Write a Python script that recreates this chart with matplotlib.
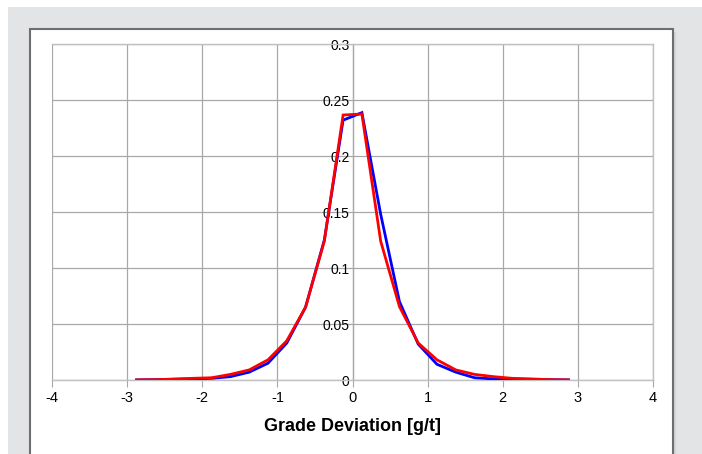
import numpy as np
import matplotlib
matplotlib.use("Agg")
import matplotlib.pyplot as plt
from matplotlib.patches import Rectangle

plt.rcParams['font.family'] = ['Liberation Sans', 'DejaVu Sans']

# Data
x_vals = [-2.875, -2.625, -2.375, -2.125, -1.875, -1.625, -1.375, -1.125, -0.875, -0.625,
          -0.375, -0.125, 0.125, 0.375, 0.625, 0.875, 1.125, 1.375, 1.625, 1.875,
          2.125, 2.375, 2.625, 2.875]
blue_vals = [0.0001, 0.0003, 0.0007, 0.001, 0.0015, 0.003, 0.007, 0.015, 0.033, 0.065,
             0.125, 0.232, 0.2387, 0.148, 0.070, 0.032, 0.014, 0.007, 0.002, 0.001,
             0.0008, 0.0005, 0.0003, 0.0001]
red_vals = [0.0001, 0.0003, 0.0008, 0.0015, 0.002, 0.005, 0.009, 0.018, 0.035, 0.065,
            0.124, 0.2366, 0.2375, 0.124, 0.0655, 0.033, 0.018, 0.009, 0.005, 0.003,
            0.0015, 0.001, 0.0003, 0.0001]
x_ticks = [-4, -3, -2, -1, 0, 1, 2, 3, 4]
y_ticks = [0, 0.05, 0.1, 0.15, 0.2, 0.25, 0.3]
y_tick_labels = ["0", "0.05", "0.1", "0.15", "0.2", "0.25", "0.3"]
x_label = "Grade Deviation [g/t]"

W, H = 702, 454
fig = plt.figure(figsize=(W / 100, H / 100), dpi=100)

def px_rect(x0, y0, x1, y1, **kw):
    return Rectangle((x0 / W, 1 - y1 / H), (x1 - x0) / W, (y1 - y0) / H,
                     transform=fig.transFigure, **kw)

# Gray background
fig.patches.append(px_rect(8, 7, 702, 454, facecolor='#e3e4e6', edgecolor='none', zorder=0))
# soft shadow
for i, c in enumerate(['#c4c5c7', '#cfd0d2', '#d8d9db', '#dfe0e2']):
    fig.patches.append(px_rect(673 + i, 32, 674 + i, 454, facecolor=c, edgecolor='none', zorder=0.5))
# White panel with dark border
fig.patches.append(px_rect(30, 29, 673, 460, facecolor='white', edgecolor='#6e6e6e',
                           linewidth=1.5, zorder=1))

ax = fig.add_axes([52 / W, 1 - 380 / H, (653 - 52) / W, (380 - 44) / H])
ax.set_zorder(2)
ax.set_facecolor('white')

ax.set_xlim(-4, 4)
ax.set_ylim(0, 0.3)

ax.plot(x_vals, blue_vals, color='#0000ff', linewidth=2.0, zorder=3, solid_joinstyle='miter')
ax.plot(x_vals, red_vals, color='#ff0000', linewidth=2.0, zorder=4, solid_joinstyle='miter')

ax.set_xticks(x_ticks)
ax.set_xticklabels([str(t) for t in x_ticks], fontsize=10.5)
ax.set_yticks(y_ticks)
ax.set_yticklabels(y_tick_labels, fontsize=10.5)

ax.grid(True, color='#a8a8a8', linewidth=0.9)
ax.set_axisbelow(True)

for s in ['top', 'right', 'bottom']:
    ax.spines[s].set_color('#c0c0c0')
    ax.spines[s].set_linewidth(1.0)
ax.spines['left'].set_position(('data', 0))
ax.spines['left'].set_color('#a8a8a8')
ax.spines['left'].set_linewidth(0.9)

ax.tick_params(axis='x', direction='out', length=5, color='#a8a8a8', pad=3, labelcolor='black')
ax.tick_params(axis='y', direction='out', length=0, pad=2, labelcolor='black')

ax.set_xlabel(x_label, fontsize=13, fontweight='bold', labelpad=9)

fig.savefig('out.png', dpi=100)
